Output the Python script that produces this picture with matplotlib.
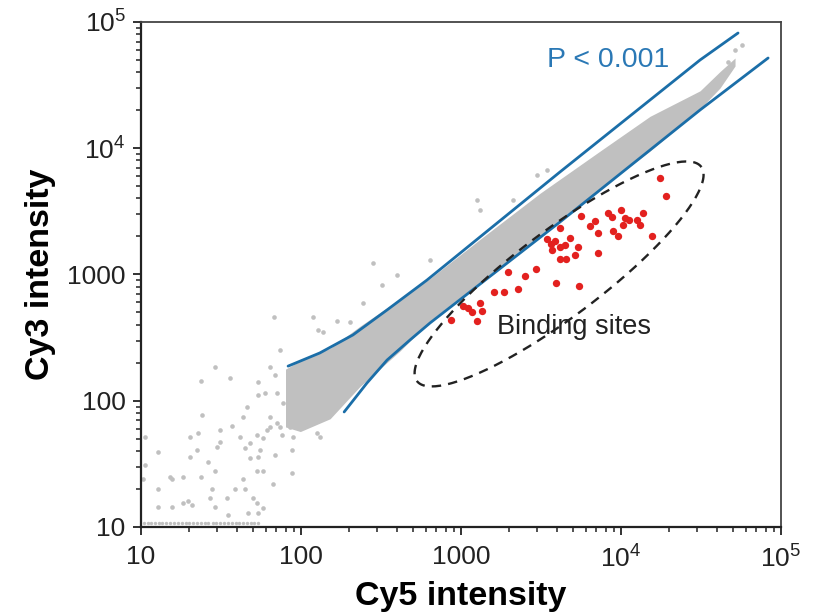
import matplotlib
matplotlib.use("Agg")
import matplotlib.pyplot as plt
import numpy as np

plt.rcParams['font.family'] = ['Liberation Sans', 'DejaVu Sans']
plt.rcParams['mathtext.fontset'] = 'custom'
plt.rcParams['mathtext.rm'] = 'Liberation Sans'

# ---- data ----
# dense core of the gray cloud (lower / upper edge)
band_x = [80, 99, 152, 234, 416, 640, 1315, 3117, 7400, 15180, 31170, 41550, 51580]
band_top = [178, 208, 260, 390, 640, 930, 1900, 4400, 9500, 17900, 28500, 40500, 51850]
band_bot = [62, 57, 72, 130, 248, 430, 870, 2050, 4750, 9500, 20500, 30000, 44800]

# sparse gray spots at low intensity
sparse_x = [67.8, 119, 168, 128, 29, 23.7, 36, 53.8, 64, 59.6,
            53.8, 46, 43.4, 24, 31.2, 37, 10.6, 20.2, 22.7, 22.4,
            20.2, 12.8, 29.9, 26.2, 29, 31.2, 41.6, 44.7, 48, 53.1,
            57.9, 55.5, 61.3, 64, 70.8, 76.1, 85.3, 89.1, 131, 68.8,
            87.9, 87.9, 48, 53.8, 53.1, 57.9, 43.4, 44.7, 38.7, 34.5,
            27.8, 27, 29, 19.7, 20.8, 18.3, 15.6, 15.2, 18.3, 23.7,
            12.8, 12.8, 15.6, 10.6, 10.3, 35, 46.7, 53.8, 53.1, 57.9,
            50.1, 66.8, 70.8, 77.2, 64, 85.3, 74, 103, 126, 68.8,
            74]
sparse_y = [460, 460, 428, 364, 185, 143, 151, 141, 185, 115,
            111, 89, 74, 77, 59, 63, 52, 52, 56, 41,
            36, 39, 43, 33, 28, 47, 52, 42, 46, 54,
            51, 41, 59, 62, 67, 54, 62, 52, 52, 37,
            41, 27, 35, 36, 28, 28, 24, 20, 20, 17,
            20, 17, 14.4, 16, 15, 15.5, 24, 25, 25, 25,
            20, 14.4, 14.4, 31, 24, 12.4, 12.9, 12.9, 15.5, 14.1,
            17, 22, 115, 96, 74, 74, 62, 62, 56, 160,
            252]

# gray spots above the band and at its upper end
above_x = [282, 321, 398, 137, 202, 244, 640, 1259, 1315, 2113, 2985, 3447, 46650, 51580, 57000]
above_y = [1233, 826, 990, 351, 420, 595, 1303, 3890, 3245, 3890, 6140, 6720, 48200, 60000, 65800]

# spots sitting on the Cy3 = 10 floor
floor_x = [10.5, 11, 11.6, 12.2, 12.9, 13.6, 14.4, 15.2, 16, 17, 18, 19, 20, 21.2, 22.4,
           23.6, 25, 26.4, 28, 29.6, 31.2, 33, 35, 37, 39, 41, 43.5, 46, 48.5, 51, 54]
floor_y = [10.8] * len(floor_x)

# binding sites (red)
red_x = [17500, 19100, 5600, 6900, 8300, 8800, 10000, 10600, 11200, 12600,
         13700, 13200, 10300, 6400, 7200, 8900, 9600, 15600, 4150, 3450,
         3650, 3870, 4150, 4470, 4800, 5400, 5160, 4150, 4530, 7200,
         3700, 2940, 2510, 1970, 3930, 5470, 2270, 1860, 1610, 1320,
         1110, 1170, 1350, 1260, 1030, 870]
red_y = [5800, 4200, 2900, 2650, 3070, 2850, 3250, 2800, 2700, 2700,
         3070, 2470, 2470, 2420, 2130, 2210, 2020, 2020, 2340, 1910,
         1750, 1840, 1650, 1710, 1950, 1650, 1430, 1330, 1330, 1480,
         1570, 1110, 970, 1050, 860, 810, 770, 730, 730, 590,
         540, 500, 510, 430, 560, 440]

# P < 0.001 boundaries
upper_x = [83, 131, 211, 345, 613, 4155, 31170, 53850]
upper_y = [188, 239, 332, 524, 904, 6490, 50000, 81800]
lower_x = [186, 258, 345, 480, 640, 4155, 31170, 83000]
lower_y = [81.5, 138, 210, 303, 413, 2606, 20090, 51850]

# ellipse around the binding sites (centre in data, axes in pixels)
ell_center = (4100, 1010)
ell_a, ell_b, ell_angle = 178, 43, 37

ticks = [10, 100, 1000, 10000, 100000]
tick_labels = ['10', '100', '1000', r'$\mathregular{10^4}$', r'$\mathregular{10^5}$']

gray = '#c0c0c0'
blue = '#1b6ea8'
red = '#e3211f'

fig = plt.figure(figsize=(8.17, 6.16), dpi=100)
ax = fig.add_axes([0.1726, 0.1445, 0.7834, 0.8198])
ax.set_xscale('log')
ax.set_yscale('log')
ax.set_xlim(10, 1e5)
ax.set_ylim(10, 1e5)

ax.fill_between(band_x, band_bot, band_top, color=gray, lw=0, zorder=1)
ax.scatter(sparse_x, sparse_y, s=11, color=gray, lw=0, zorder=2)
ax.scatter(above_x, above_y, s=11, color=gray, lw=0, zorder=2)
ax.scatter(floor_x, floor_y, s=6, color=gray, lw=0, zorder=2)
ax.scatter(red_x, red_y, s=28, color=red, lw=0, zorder=3)

ax.plot(upper_x, upper_y, color=blue, lw=2.0, zorder=4, solid_capstyle='round')
ax.plot(lower_x, lower_y, color=blue, lw=2.0, zorder=4, solid_capstyle='round')

# dashed ellipse drawn in log space so it looks like a true ellipse on screen
pos = ax.get_position()
px_per_dec_x = pos.width * fig.get_figwidth() * fig.dpi / 4
px_per_dec_y = pos.height * fig.get_figheight() * fig.dpi / 4
t = np.linspace(0, 2 * np.pi, 200)
th = np.deg2rad(ell_angle)
dx = ell_a * np.cos(t) * np.cos(th) - ell_b * np.sin(t) * np.sin(th)
dy = ell_a * np.cos(t) * np.sin(th) + ell_b * np.sin(t) * np.cos(th)
ex = 10 ** (np.log10(ell_center[0]) + dx / px_per_dec_x)
ey = 10 ** (np.log10(ell_center[1]) + dy / px_per_dec_y)
ax.plot(ex, ey, color='#222222', lw=1.7, ls=(0, (4, 3)), zorder=5)

ax.text(3450, 50000, 'P < 0.001', color='#2a78b5', fontsize=20.5, va='center', ha='left')
ax.text(1680, 384, 'Binding sites', color='#222222', fontsize=19.5, va='center', ha='left')

ax.set_xticks(ticks)
ax.set_xticklabels(tick_labels)
ax.set_yticks(ticks)
ax.set_yticklabels(tick_labels)
ax.tick_params(which='major', direction='out', length=6, width=1.3, labelsize=19,
               colors='#222222', top=False, right=False)
ax.tick_params(axis='x', which='major', pad=7)
ax.tick_params(axis='y', which='major', pad=5)
ax.tick_params(which='minor', direction='out', length=3.5, width=1.1, colors='#222222',
               top=False, right=False)
for side in ['left', 'bottom']:
    ax.spines[side].set_linewidth(1.6)
    ax.spines[side].set_color('#222222')
for side in ['top', 'right']:
    ax.spines[side].set_linewidth(1.3)
    ax.spines[side].set_color('#444444')

ax.set_xlabel('Cy5 intensity', fontsize=24.5, fontweight='bold', labelpad=6)
ax.set_ylabel('Cy3 intensity', fontsize=24.5, fontweight='bold', labelpad=8)

fig.savefig('out.png', dpi=100)
